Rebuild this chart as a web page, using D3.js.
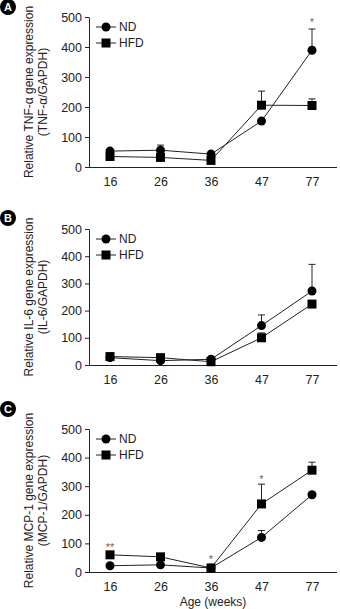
<!DOCTYPE html>
<html>
<head>
<meta charset="utf-8">
<script src="https://cdn.jsdelivr.net/npm/d3@7"></script>
<style>
  body { margin: 0; background: #fff; }
  text { font-family: "Liberation Sans", Arial, sans-serif; fill: #222; }
</style>
</head>
<body>
<script>
// dati (età in settimane)
var ages = ["16", "26", "36", "47", "77"];
var yTicks = [0, 100, 200, 300, 400, 500];

var tnfND = [53, 56, 43, 153, 389];
var tnfNDErr = [4, 17, 4, 0, 71];
var tnfHFD = [35, 32, 22, 206, 205];
var tnfHFDErr = [3, 3, 3, 47, 22];

var il6ND = [27, 16, 21, 145, 272];
var il6NDErr = [0, 0, 0, 39, 98];
var il6HFD = [31, 27, 12, 100, 224];
var il6HFDErr = [0, 0, 0, 18, 0];

var mcpND = [22, 25, 14, 121, 270];
var mcpNDErr = [0, 0, 0, 24, 0];
var mcpHFD = [60, 53, 14, 238, 356];
var mcpHFDErr = [0, 0, 0, 69, 28];

// asterischi: v = altezza (nella scala y) del centro del simbolo
var tnfStars = [{age: "77", text: "*", v: 489}];
var il6Stars = [];
var mcpStars = [
    {age: "16", text: "**", v: 95},
    {age: "36", text: "*", v: 54},
    {age: "47", text: "*", v: 333}
];

var width = 340, height = 609;

var svg = d3.select("body").append("svg")
    .attr("width", width)
    .attr("height", height);

var panels = [
    {letter: "A", top: 17, bottom: 167, label1: "Relative TNF-\u03b1 gene expression", label2: "(TNF-\u03b1/GAPDH)",
     nd: tnfND, ndErr: tnfNDErr, hfd: tnfHFD, hfdErr: tnfHFDErr, stars: tnfStars, letterY: 7},
    {letter: "B", top: 229, bottom: 365, label1: "Relative IL-6 gene expression", label2: "(IL-6/GAPDH)",
     nd: il6ND, ndErr: il6NDErr, hfd: il6HFD, hfdErr: il6HFDErr, stars: il6Stars, letterY: 218},
    {letter: "C", top: 429, bottom: 572, label1: "Relative MCP-1 gene expression", label2: "(MCP-1/GAPDH)",
     nd: mcpND, ndErr: mcpNDErr, hfd: mcpHFD, hfdErr: mcpHFDErr, stars: mcpStars, letterY: 409}
];

var x = d3.scalePoint().domain(ages).range([110, 312]).padding(0);
var axisLeft = 89, axisRight = 337;

panels.forEach(drawPanel);

// etichetta asse x in fondo
svg.append("text")
    .attr("x", 213)
    .attr("y", 606)
    .attr("text-anchor", "middle")
    .style("font-size", "12px")
    .text("Age (weeks)");

function drawPanel(p) {
    var g = svg.append("g");
    var y = d3.scaleLinear().domain([0, 500]).range([p.bottom, p.top]);

    // lettera cerchiata
    g.append("circle")
        .attr("cx", 8).attr("cy", p.letterY).attr("r", 8)
        .attr("fill", "#000");
    g.append("text")
        .attr("x", 8).attr("y", p.letterY + 4)
        .attr("text-anchor", "middle")
        .style("font-size", "11px").style("font-weight", "bold")
        .style("fill", "#fff")
        .text(p.letter);

    // asse y
    var ya = g.append("g")
        .attr("transform", "translate(" + axisLeft + ",0)")
        .call(d3.axisLeft(y).tickValues(yTicks).tickSize(4).tickPadding(3).tickSizeOuter(0));
    ya.select(".domain").attr("stroke", "#222");
    ya.selectAll(".tick line").attr("stroke", "#222");
    ya.selectAll(".tick text").style("font-size", "12.5px").style("fill", "#222")
        .style("font-family", "Liberation Sans, Arial, sans-serif");

    // asse x senza tacche
    var xa = g.append("g")
        .attr("transform", "translate(0," + p.bottom + ")")
        .call(d3.axisBottom(x).tickSize(0).tickPadding(10));
    xa.select(".domain").attr("d", "M" + axisLeft + ",0.5H" + axisRight).attr("stroke", "#222");
    xa.selectAll(".tick text").style("font-size", "12.5px").style("fill", "#222")
        .style("font-family", "Liberation Sans, Arial, sans-serif");

    // etichetta asse y su due righe
    var cy = (p.top + p.bottom) / 2;
    g.append("text")
        .attr("transform", "translate(33," + cy + ") rotate(-90)")
        .attr("text-anchor", "middle")
        .style("font-size", "12px")
        .text(p.label1);
    g.append("text")
        .attr("transform", "translate(47," + cy + ") rotate(-90)")
        .attr("text-anchor", "middle")
        .style("font-size", "12px")
        .text(p.label2);

    var series = [
        {vals: p.nd, err: p.ndErr, shape: "circle"},
        {vals: p.hfd, err: p.hfdErr, shape: "square"}
    ];

    var line = d3.line()
        .x(function (d, i) { return x(ages[i]); })
        .y(function (d) { return y(d); });

    series.forEach(function (s) {
        // barre d'errore verso l'alto
        s.vals.forEach(function (v, i) {
            if (s.err[i] <= 0) return;
            var cx = x(ages[i]), y0 = y(v), y1 = y(v + s.err[i]);
            g.append("line").attr("x1", cx).attr("x2", cx).attr("y1", y0).attr("y2", y1)
                .attr("stroke", "#222").attr("stroke-width", 1);
            g.append("line").attr("x1", cx - 3.5).attr("x2", cx + 3.5).attr("y1", y1).attr("y2", y1)
                .attr("stroke", "#222").attr("stroke-width", 1);
        });
        g.append("path")
            .attr("d", line(s.vals))
            .attr("fill", "none")
            .attr("stroke", "#222")
            .attr("stroke-width", 1);
    });

    series.forEach(function (s) {
        s.vals.forEach(function (v, i) {
            drawMarker(g, s.shape, x(ages[i]), y(v));
        });
    });

    // asterischi di significatività
    p.stars.forEach(function (st) {
        g.append("text")
            .attr("x", x(st.age))
            .attr("y", y(st.v) + 6)
            .attr("text-anchor", "middle")
            .style("font-size", "11px")
            .style("fill", "#666")
            .text(st.text);
    });

    // legenda
    var legend = [{name: "ND", shape: "circle"}, {name: "HFD", shape: "square"}];
    legend.forEach(function (l, i) {
        var ly = p.top + 10 + i * 16;
        g.append("line").attr("x1", 96).attr("x2", 116).attr("y1", ly).attr("y2", ly)
            .attr("stroke", "#222").attr("stroke-width", 1);
        drawMarker(g, l.shape, 106, ly);
        g.append("text")
            .attr("x", 119).attr("y", ly + 4)
            .style("font-size", "12px")
            .text(l.name);
    });
}

function drawMarker(g, shape, cx, cy) {
    if (shape === "circle") {
        g.append("circle").attr("cx", cx).attr("cy", cy).attr("r", 4.5).attr("fill", "#000");
    } else {
        g.append("rect").attr("x", cx - 4.5).attr("y", cy - 4.5)
            .attr("width", 9).attr("height", 9).attr("fill", "#000");
    }
}
</script>
</body>
</html>
